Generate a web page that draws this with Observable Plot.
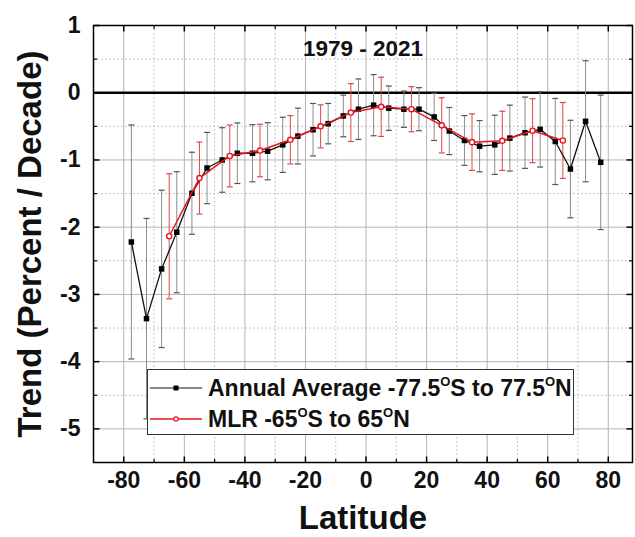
<!DOCTYPE html>
<html>
<head>
<meta charset="utf-8">
<script src="https://cdn.jsdelivr.net/npm/d3@7"></script>
<script src="https://cdn.jsdelivr.net/npm/@observablehq/plot@0.6"></script>
<style>
  body { margin: 0; background: #fff; }
  #wrap { position: relative; width: 635px; height: 537px; font-family: "Liberation Sans", Arial, sans-serif; }
  #legend { position: absolute; left: 147px; top: 369px; width: 427px; height: 66px; border: 1px solid #333; background: #fff; box-sizing: border-box; }
  .row { position: absolute; left: 0; height: 30px; display: flex; align-items: center; font-weight: bold; font-size: 23px; color: #111; white-space: nowrap; line-height: 1; }
  .row svg { margin-left: 2px; margin-right: 6px; }
  .row sup { font-size: 13px; vertical-align: 10px; line-height: 0; }
</style>
</head>
<body>
<div id="wrap"></div>
<script>
// ---- data ----
const blackLat = [-77.5, -72.5, -67.5, -62.5, -57.5, -52.5, -47.5, -42.5, -37.5, -32.5, -27.5, -22.5, -17.5, -12.5, -7.5, -2.5,
                  2.5, 7.5, 12.5, 17.5, 22.5, 27.5, 32.5, 37.5, 42.5, 47.5, 52.5, 57.5, 62.5, 67.5, 72.5, 77.5];
const blackTrend = [-2.22, -3.36, -2.62, -2.075, -1.495, -1.12, -1.0, -0.9, -0.9, -0.87, -0.775, -0.645, -0.55, -0.46, -0.345, -0.245,
                    -0.185, -0.23, -0.245, -0.245, -0.36, -0.57, -0.71, -0.795, -0.775, -0.675, -0.595, -0.545, -0.725, -1.135, -0.425, -1.035];
const blackErr = [1.74, 1.49, 1.17, 0.9, 0.61, 0.53, 0.48, 0.45, 0.425, 0.425, 0.41, 0.415, 0.39, 0.3, 0.31, 0.45,
                  0.455, 0.33, 0.27, 0.32, 0.35, 0.35, 0.37, 0.38, 0.44, 0.49, 0.53, 0.56, 0.64, 0.725, 0.9, 1.0];

const redLat = [-65, -55, -45, -35, -25, -15, -5, 5, 15, 25, 35, 45, 55, 65];
const redTrend = [-2.135, -1.27, -0.94, -0.86, -0.70, -0.50, -0.295, -0.21, -0.245, -0.485, -0.735, -0.715, -0.565, -0.71];
const redErr = [0.93, 0.535, 0.46, 0.39, 0.36, 0.32, 0.43, 0.44, 0.335, 0.41, 0.42, 0.44, 0.475, 0.565];

const xTicks = [-80, -60, -40, -20, 0, 20, 40, 60, 80];
const xMinor = [-70, -50, -30, -10, 10, 30, 50, 70];
const yTicks = [1, 0, -1, -2, -3, -4, -5];
const yMinor = [0.5, -0.5, -1.5, -2.5, -3.5, -4.5];

const titleText = "1979 - 2021";
const xLabel = "Latitude";
const yLabel = "Trend (Percent / Decade)";

// ---- tables ----
const black = blackLat.map((lat, i) => ({lat, v: blackTrend[i], e: blackErr[i]}));
const red = redLat.map((lat, i) => ({lat, v: redTrend[i], e: redErr[i]}));

// ---- custom symbols ----
const cap = {draw(c) { c.moveTo(-3, 0); c.lineTo(3, 0); }};
const tickUpL = {draw(c) { c.moveTo(0, 0); c.lineTo(0, -6); }};
const tickUpS = {draw(c) { c.moveTo(0, 0); c.lineTo(0, -3.5); }};
const tickDnL = {draw(c) { c.moveTo(0, 0); c.lineTo(0, 6); }};
const tickDnS = {draw(c) { c.moveTo(0, 0); c.lineTo(0, 3.5); }};
const tickRtL = {draw(c) { c.moveTo(0, 0); c.lineTo(6, 0); }};
const tickRtS = {draw(c) { c.moveTo(0, 0); c.lineTo(3.5, 0); }};
const tickLfL = {draw(c) { c.moveTo(0, 0); c.lineTo(-6, 0); }};
const tickLfS = {draw(c) { c.moveTo(0, 0); c.lineTo(-3.5, 0); }};

const BLK = "#111";
const RED = "#e8161c";
const FONT = "Liberation Sans, Arial, sans-serif";

const chart = Plot.plot({
  width: 635,
  height: 537,
  marginLeft: 93,
  marginRight: 3,
  marginTop: 25,
  marginBottom: 75,
  style: {fontFamily: FONT, background: "#fff"},
  x: {domain: [-90, 88], label: null},
  y: {domain: [-5.5, 1], label: null},
  marks: [
    // grid
    Plot.ruleX(xMinor, {stroke: "#c4c4c4", strokeDasharray: "2,2", strokeWidth: 1}),
    Plot.ruleY(yMinor, {stroke: "#c4c4c4", strokeDasharray: "2,2", strokeWidth: 1}),
    Plot.ruleX(xTicks, {stroke: "#b4b4b4", strokeWidth: 1}),
    Plot.ruleY(yTicks, {stroke: "#b4b4b4", strokeWidth: 1}),
    // zero line
    Plot.ruleY([0], {stroke: "#000", strokeWidth: 2.6}),
    // title
    Plot.text([titleText], {text: d => d, frameAnchor: "top", dy: 23, lineAnchor: "middle", fontSize: 22.5, fontWeight: "bold", fill: "#111"}),
    // black error bars
    Plot.ruleX(black, {x: "lat", y1: d => d.v - d.e, y2: d => d.v + d.e, stroke: "#8c8c8c", strokeWidth: 1}),
    Plot.dot(black, {x: "lat", y: d => d.v + d.e, symbol: cap, stroke: "#555", strokeWidth: 1.2}),
    Plot.dot(black, {x: "lat", y: d => d.v - d.e, symbol: cap, stroke: "#555", strokeWidth: 1.2}),
    // red error bars
    Plot.ruleX(red, {x: "lat", y1: d => d.v - d.e, y2: d => d.v + d.e, stroke: "#e0474c", strokeWidth: 1}),
    Plot.dot(red, {x: "lat", y: d => d.v + d.e, symbol: cap, stroke: "#e0474c", strokeWidth: 1.2}),
    Plot.dot(red, {x: "lat", y: d => d.v - d.e, symbol: cap, stroke: "#e0474c", strokeWidth: 1.2}),
    // black series
    Plot.line(black, {x: "lat", y: "v", stroke: BLK, strokeWidth: 1.3}),
    Plot.dot(black, {x: "lat", y: "v", symbol: "square", r: 3.1, fill: "#000", stroke: "none"}),
    // red series
    Plot.line(red, {x: "lat", y: "v", stroke: RED, strokeWidth: 1.5}),
    Plot.dot(red, {x: "lat", y: "v", r: 2.6, fill: "#fff", stroke: RED, strokeWidth: 1.4}),
    // inward ticks on all four sides
    Plot.dot(xTicks, {x: d => d, frameAnchor: "bottom", symbol: tickUpL, stroke: "#000", strokeWidth: 1.5}),
    Plot.dot(xMinor, {x: d => d, frameAnchor: "bottom", symbol: tickUpS, stroke: "#000", strokeWidth: 1.2}),
    Plot.dot(xTicks, {x: d => d, frameAnchor: "top", symbol: tickDnL, stroke: "#000", strokeWidth: 1.5}),
    Plot.dot(xMinor, {x: d => d, frameAnchor: "top", symbol: tickDnS, stroke: "#000", strokeWidth: 1.2}),
    Plot.dot(yTicks, {y: d => d, frameAnchor: "left", symbol: tickRtL, stroke: "#000", strokeWidth: 1.5}),
    Plot.dot(yMinor, {y: d => d, frameAnchor: "left", symbol: tickRtS, stroke: "#000", strokeWidth: 1.2}),
    Plot.dot(yTicks, {y: d => d, frameAnchor: "right", symbol: tickLfL, stroke: "#000", strokeWidth: 1.5}),
    Plot.dot(yMinor, {y: d => d, frameAnchor: "right", symbol: tickLfS, stroke: "#000", strokeWidth: 1.2}),
    // frame
    Plot.frame({stroke: "#000", strokeWidth: 1.5}),
    // axes
    Plot.axisX(xTicks, {tickSize: 0, tickPadding: 9, fontSize: 23, fontWeight: "bold", tickFormat: d => String(d), label: null, fill: "#111"}),
    Plot.axisY(yTicks, {tickSize: 0, tickPadding: 13, fontSize: 23, fontWeight: "bold", tickFormat: d => String(d), label: null, fill: "#111"}),
    // axis titles
    Plot.text([xLabel], {text: d => d, frameAnchor: "bottom", dy: 56, lineAnchor: "middle", textAnchor: "middle", fontSize: 33, fontWeight: "bold", fill: "#111"}),
    Plot.text([yLabel], {text: d => d, frameAnchor: "left", dx: -63, rotate: -90, lineAnchor: "middle", textAnchor: "middle", fontSize: 33, fontWeight: "bold", fill: "#111"})
  ]
});

const wrap = document.getElementById("wrap");
wrap.appendChild(chart);

// legend (inside the plot area, as in the reference)
const legend = document.createElement("div");
legend.id = "legend";
legend.innerHTML = `
  <div class="row" style="top:3px">
    <svg width="52" height="14"><line x1="0" y1="7" x2="52" y2="7" stroke="${BLK}" stroke-width="1.2"/><rect x="23.5" y="4.5" width="5" height="5" fill="#000"/></svg>
    <span>Annual Average -77.5<sup>O</sup>S to 77.5<sup>O</sup>N</span>
  </div>
  <div class="row" style="top:34px">
    <svg width="52" height="14"><line x1="0" y1="7" x2="52" y2="7" stroke="${RED}" stroke-width="1.4"/><circle cx="26" cy="7" r="2.2" fill="#fff" stroke="${RED}" stroke-width="1.2"/></svg>
    <span>MLR -65<sup>O</sup>S to 65<sup>O</sup>N</span>
  </div>`;
wrap.appendChild(legend);
</script>
</body>
</html>
